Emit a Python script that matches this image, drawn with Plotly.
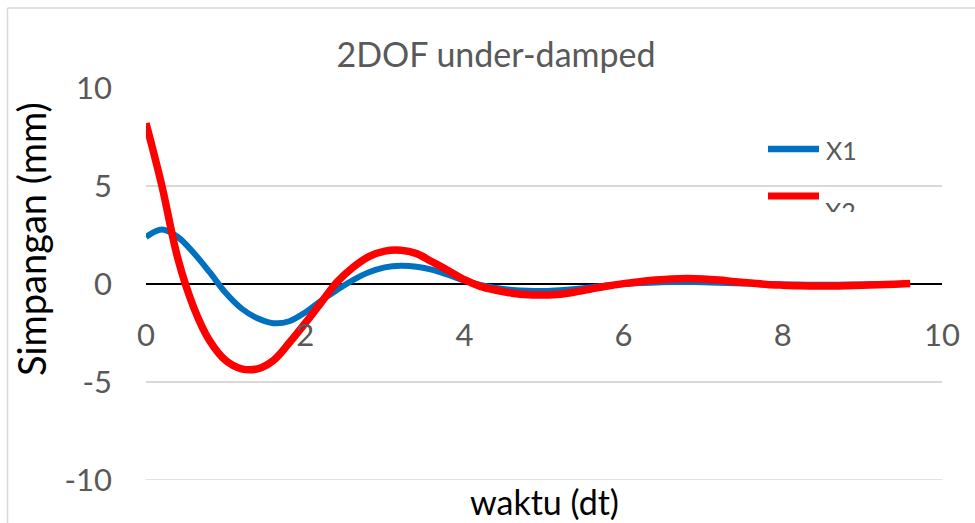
import plotly.graph_objects as go

# time axis (dt) and displacement of the two degrees of freedom (mm)
t = [0.0, 0.2, 0.4, 0.6, 0.8, 1.0, 1.2, 1.4, 1.6, 1.8,
     2.0, 2.2, 2.4, 2.6, 2.8, 3.0, 3.2, 3.4, 3.6, 3.8,
     4.0, 4.2, 4.4, 4.6, 4.8, 5.0, 5.2, 5.4, 5.6, 5.8,
     6.0, 6.2, 6.4, 6.6, 6.8, 7.0, 7.2, 7.4, 7.6, 7.8,
     8.0, 8.2, 8.4, 8.6, 8.8, 9.0, 9.2, 9.4, 9.6]

x1 = [2.4, 2.78, 2.4, 1.58, 0.6, -0.45, -1.25, -1.75, -2.0, -1.9,
      -1.45, -0.85, -0.3, 0.2, 0.6, 0.85, 0.93, 0.88, 0.72, 0.46,
      0.18, -0.05, -0.2, -0.3, -0.35, -0.36, -0.32, -0.25, -0.16, -0.07,
      0.0, 0.05, 0.08, 0.1, 0.1, 0.09, 0.07, 0.04, 0.02, 0.0,
      -0.02, -0.03, -0.04, -0.04, -0.03, -0.02, -0.01, 0.0, 0.01]

x2 = [8.2, 5.0, 1.3, -1.2, -2.9, -3.9, -4.33, -4.33, -3.9, -3.0,
      -2.0, -0.95, 0.1, 0.85, 1.4, 1.68, 1.72, 1.55, 1.12, 0.68,
      0.22, -0.12, -0.32, -0.47, -0.55, -0.56, -0.52, -0.4, -0.25, -0.1,
      0.02, 0.12, 0.2, 0.26, 0.28, 0.26, 0.2, 0.12, 0.05, -0.02,
      -0.06, -0.09, -0.1, -0.1, -0.09, -0.07, -0.04, -0.01, 0.02]

x_ticks = [0, 2, 4, 6, 8, 10]
y_ticks = [-10, -5, 0, 5, 10]
y_tick_text = ["-10", "-5", "0", "5", "10"]

BLUE = "#0070C0"
RED = "#FF0000"
GREY_TEXT = "#595959"
GRID = "#D9D9D9"
FONT = "Lato"

W, H = 975, 523
L, R, T, B = 146, 33, 88, 43
PW, PH = W - L - R, H - T - B


def px(xp):
    """pixel column -> paper x"""
    return (xp - L) / PW


def py(yp):
    """pixel row -> paper y"""
    return (H - B - yp) / PH


fig = go.Figure()
fig.add_trace(go.Scatter(x=t, y=x1, name="X1", mode="lines",
                         line=dict(color=BLUE, width=6, shape="spline")))
fig.add_trace(go.Scatter(x=t, y=x2, name="X2", mode="lines",
                         line=dict(color=RED, width=7.5, shape="spline")))

shapes = [
    # chart area frame (left and top edges)
    dict(type="line", xref="paper", yref="paper", x0=px(7.5), y0=py(H), x1=px(7.5), y1=py(8),
         line=dict(color=GRID, width=1.5)),
    dict(type="line", xref="paper", yref="paper", x0=px(7.5), y0=py(8), x1=px(W), y1=py(8),
         line=dict(color=GRID, width=1.5)),
    # bottom gridline of the value axis
    dict(type="line", xref="paper", yref="y", x0=0, x1=1, y0=-10, y1=-10, layer="below",
         line=dict(color=GRID, width=1.5)),
    # legend keys
    dict(type="line", xref="paper", yref="paper", x0=px(768), y0=py(149), x1=px(819), y1=py(149),
         line=dict(color=BLUE, width=6.5)),
    dict(type="line", xref="paper", yref="paper", x0=px(768), y0=py(196), x1=px(819), y1=py(196),
         line=dict(color=RED, width=7)),
]

annotations = [
    dict(text="X1", xref="paper", yref="paper", x=px(824), y=py(150),
         xanchor="left", yanchor="middle", showarrow=False,
         font=dict(family=FONT, size=25, color=GREY_TEXT)),
    # the second legend entry is cut off by the legend box
    dict(text="X2", xref="paper", yref="paper", x=px(824), y=py(195),
         xanchor="left", yanchor="top", valign="top", height=16, borderpad=0,
         showarrow=False, font=dict(family=FONT, size=25, color=GREY_TEXT)),
    # axis titles
    dict(text="Simpangan (mm)", xref="paper", yref="paper", x=px(31), y=py(239),
         xanchor="center", yanchor="middle", textangle=-90, showarrow=False,
         font=dict(family=FONT, size=38, color="black")),
    dict(text="waktu (dt)", xref="paper", yref="paper", x=px(544), y=py(H),
         xanchor="center", yanchor="bottom", borderpad=0, showarrow=False,
         font=dict(family=FONT, size=34, color="black")),
]

fig.update_layout(
    width=W, height=H,
    margin=dict(l=L, r=R, t=T, b=B),
    paper_bgcolor="white", plot_bgcolor="white",
    showlegend=False,
    font=dict(family=FONT, color=GREY_TEXT),
    title=dict(text="2DOF under-damped", xref="container", yref="container",
               x=496 / W, y=1 - 55 / H, xanchor="center", yanchor="middle",
               font=dict(family=FONT, size=34, color=GREY_TEXT)),
    xaxis=dict(range=[0, 10], tickvals=x_ticks, anchor="free", position=0.5,
               showgrid=False, zeroline=False, showline=False, ticks="",
               tickfont=dict(family=FONT, size=31, color=GREY_TEXT),
               ticklabelstandoff=30, automargin=False),
    yaxis=dict(range=[-10, 10], tickvals=y_ticks, ticktext=y_tick_text, showgrid=True,
               gridcolor=GRID, gridwidth=1.5,
               zeroline=True, zerolinecolor="black", zerolinewidth=1.5,
               showline=False, ticks="",
               tickfont=dict(family=FONT, size=31, color=GREY_TEXT),
               ticklabelstandoff=33, automargin=False),
    shapes=shapes,
    annotations=annotations,
)

fig.write_html("out.html")
